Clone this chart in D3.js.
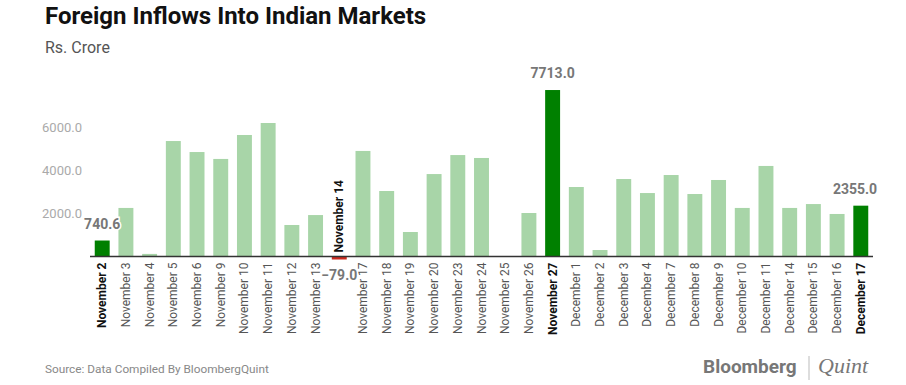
<!DOCTYPE html>
<meta charset="utf-8">
<style>
body { margin: 0; background: #fff; font-family: Roboto, "Noto Sans", sans-serif; }
.title { font-size: 24px; font-weight: 700; fill: #111; }
.subtitle { font-size: 16px; fill: #555; }
.yaxis text { fill: #aaa; font-size: 13px; }
.xlab { font-size: 12px; fill: #555; }
.xlab.hi { font-weight: 700; fill: #111; }
.vlab { font-size: 14px; font-weight: 700; fill: #777; paint-order: stroke; stroke: #fff; stroke-width: 3px; }
.source { font-size: 11.8px; fill: #888; }
</style>
<body>
<script src="https://cdn.jsdelivr.net/npm/d3@7"></script>
<script>

// dates and inflows (Rs. Crore)
var dates = ["November 2", "November 3", "November 4", "November 5", "November 6", "November 9",
  "November 10", "November 11", "November 12", "November 13", "November 14", "November 17",
  "November 18", "November 19", "November 20", "November 23", "November 24", "November 25",
  "November 26", "November 27", "December 1", "December 2", "December 3", "December 4",
  "December 7", "December 8", "December 9", "December 10", "December 11", "December 14",
  "December 15", "December 16", "December 17"];

var values = [740.6, 2250, 120, 5350, 4840, 4520, 5630, 6185, 1460, 1920, -79.0, 4890,
  3035, 1135, 3820, 4700, 4565, 0, 2015, 7713.0, 3220, 300, 3590, 2940,
  3775, 2895, 3545, 2250, 4195, 2250, 2430, 1970, 2355.0];

// bars that get a dark colour and a value label
var highlighted = ["November 2", "November 14", "November 27", "December 17"];

var yTicks = [2000, 4000, 6000];

var width = 906, height = 385;

var svg = d3.select("body").append("svg")
    .attr("width", width)
    .attr("height", height);

svg.append("text").attr("class", "title")
    .attr("x", 45).attr("y", 24)
    .text("Foreign Inflows Into Indian Markets");

svg.append("text").attr("class", "subtitle")
    .attr("x", 45).attr("y", 53)
    .text("Rs. Crore");

var x = d3.scaleBand()
    .domain(dates)
    .range([90, 873])
    .paddingInner(0.37)
    .paddingOuter(0.2);

var y = d3.scaleLinear()
    .domain([0, 6000])
    .range([256.5, 127]);

// y axis labels only, no line or ticks
var yAxis = svg.append("g")
    .attr("class", "yaxis")
    .attr("transform", "translate(82,0)")
    .call(d3.axisLeft(y).tickValues(yTicks).tickSize(0).tickPadding(0).tickFormat(d3.format(".1f")));
yAxis.select(".domain").remove();
yAxis.selectAll("text").style("font-family", "Roboto, sans-serif");

function isHi(d) { return highlighted.indexOf(d) >= 0; }

// bars
svg.selectAll("rect.bar")
    .data(dates)
  .enter().append("rect")
    .attr("class", "bar")
    .attr("x", function(d) { return x(d); })
    .attr("width", x.bandwidth())
    .attr("y", function(d, i) { return y(Math.max(0, values[i])); })
    .attr("height", function(d, i) { return Math.max(Math.abs(y(values[i]) - y(0)), values[i] < 0 ? 3 : 0); })
    .attr("fill", function(d, i) {
      if (values[i] < 0) return "#cc2a1f";
      return isHi(d) ? "#008000" : "#a8d5a8";
    });

// baseline
svg.append("line")
    .attr("x1", 90).attr("x2", 873)
    .attr("y1", y(0)).attr("y2", y(0))
    .attr("stroke", "#333")
    .attr("stroke-width", 1.5);

// category labels, rotated; for the negative bar the label goes above the baseline
svg.selectAll("text.xlab")
    .data(dates)
  .enter().append("text")
    .attr("class", function(d) { return "xlab" + (isHi(d) ? " hi" : ""); })
    .attr("transform", function(d, i) {
      var cx = x(d) + x.bandwidth() / 2;
      return values[i] < 0
        ? "translate(" + (cx + 4) + "," + (y(0) - 4) + ") rotate(-90)"
        : "translate(" + (cx + 4) + "," + (y(0) + 6) + ") rotate(-90)";
    })
    .attr("text-anchor", function(d, i) { return values[i] < 0 ? "start" : "end"; })
    .text(function(d) { return d; });

// value labels for highlighted bars
var fmt = d3.format(".1f");
svg.selectAll("text.vlab")
    .data(dates.filter(isHi))
  .enter().append("text")
    .attr("class", "vlab")
    .attr("x", function(d) {
      var cx = x(d) + x.bandwidth() / 2;
      return Math.min(cx, 873 - 18);
    })
    .attr("y", function(d) {
      var v = values[dates.indexOf(d)];
      return v < 0 ? y(0) + 23 : y(v) - 12;
    })
    .attr("text-anchor", "middle")
    .text(function(d) { return fmt(values[dates.indexOf(d)]).replace("-", "\u2212"); });

// footer
svg.append("text").attr("class", "source")
    .attr("x", 45).attr("y", 373)
    .text("Source: Data Compiled By BloombergQuint");

svg.append("text")
    .attr("x", 703).attr("y", 373)
    .style("font-size", "19px").style("font-weight", 700).style("fill", "#777")
    .style("font-family", "Roboto, sans-serif")
    .text("Bloomberg");

svg.append("line")
    .attr("x1", 809).attr("x2", 809)
    .attr("y1", 356).attr("y2", 380)
    .attr("stroke", "#bbb");

svg.append("text")
    .attr("x", 818).attr("y", 373)
    .style("font-size", "22px").style("font-style", "italic").style("fill", "#777")
    .style("font-family", "'Liberation Serif', serif")
    .text("Quint");

</script>
</body>
